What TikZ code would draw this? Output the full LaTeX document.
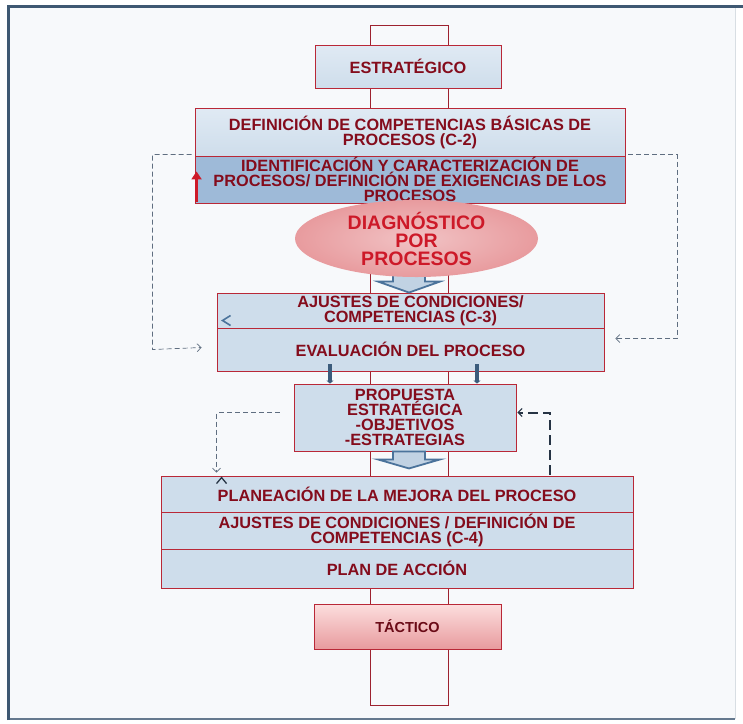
\documentclass[tikz,border=0pt]{standalone}
\usepackage{fontspec}
\setmainfont{Liberation Sans}
\usetikzlibrary{positioning,arrows.meta,calc,shapes.geometric}
\definecolor{cpRojo}{RGB}{185,40,55}
\definecolor{cpTexto}{RGB}{132,12,28}
\definecolor{cpVivo}{RGB}{205,25,40}
\definecolor{cpAzul}{RGB}{206,221,235}
\definecolor{cpAzulClaro}{RGB}{224,234,244}
\definecolor{cpAzulOscuro}{RGB}{158,186,216}
\definecolor{cpAcero}{RGB}{75,115,155}
\definecolor{cpRosa}{RGB}{232,155,158}
\definecolor{cpRosaClaro}{RGB}{252,222,222}
\definecolor{cpGris}{RGB}{95,110,128}
\definecolor{cpNegro}{RGB}{38,52,68}
\definecolor{cpMarco}{RGB}{62,88,114}
\definecolor{cpFondo}{RGB}{247,249,251}
\tikzset{
    base/.style={font=\bfseries\fontsize{16.3}{15}\selectfont, align=center,
                 text=cpTexto, inner sep=0pt},
    caja/.style={base, rectangle, draw=cpRojo, line width=0.9pt, fill=cpAzul},
    nivel/.style={caja, top color=cpAzulClaro, bottom color=cpAzul},
    tactico/.style={caja, top color=cpRosaClaro, bottom color=cpRosa,
                    text=cpTexto!80!black},
    diagnostico/.style={base, ellipse, inner color=cpRosa!60!white, outer color=cpRosa,
                        text=cpVivo, font=\bfseries\fontsize{19.5}{18}\selectfont},
    eje/.style={rectangle, draw=cpRojo!85!black, line width=0.8pt},
    bloque/.style={draw=cpAcero, line width=1.8pt, fill=cpAzul!90!cpAcero, line join=miter},
    lazo/.style={cpGris, line width=0.7pt, dash pattern=on 5pt off 3pt,
                 -{Straight Barb[length=4pt,width=8pt]}},
    lazofuerte/.style={cpNegro, line width=2pt, dash pattern=on 10pt off 5pt,
                       -{Straight Barb[length=4pt,width=8pt,line width=1pt]}},
    tramo/.style={cpAcero!80!black, line width=3.5pt, -{Triangle[length=3pt,width=7pt]}}
}

\begin{document}
\begin{tikzpicture}[x=1pt,y=-1pt]
  \useasboundingbox (0,0) rectangle (743,723);
  % Frame
  \fill[white] (0,0) rectangle (743,723);
  \fill[cpFondo] (8,6) rectangle (735,719);
  \draw[cpMarco!20, line width=1pt] (735,6) -- (735,719);
  \draw[cpMarco!80, line width=1.5pt] (8,719) -- (735,719);
  \draw[cpMarco, line width=3pt] (8,720) -- (8,6) -- (743,6);

  % Central axis
  \node[eje, minimum width=78pt, minimum height=680pt] (axis) at (409,365) {};

  % Strategic level
  \node[nivel, minimum width=186pt, minimum height=43pt] (estrat) at (408,66.5) {ESTRATÉGICO};
  \node[nivel, minimum width=430pt, minimum height=48pt] (defin) at (410,132)
    {DEFINICIÓN DE COMPETENCIAS BÁSICAS DE\\PROCESOS (C-2)};
  \node[caja, fill=cpAzulOscuro, minimum width=430pt, minimum height=47pt] (ident) at (410,179.5)
    {IDENTIFICACIÓN Y CARACTERIZACIÓN DE\\PROCESOS/ DEFINICIÓN DE EXIGENCIAS DE LOS\\PROCESOS};

  % Evaluation
  \node[caja, minimum width=387pt, minimum height=35pt] (ajustes) at (410.5,310.5)
    {AJUSTES DE CONDICIONES/\\COMPETENCIAS (C-3)};
  \node[caja, minimum width=387pt, minimum height=43pt] (evalua) at (410.5,349.5)
    {EVALUACIÓN DEL PROCESO};
  \node[caja, minimum width=222pt, minimum height=67pt] (propuesta) at (405,417.5)
    {PROPUESTA\\ESTRATÉGICA\\-OBJETIVOS\\-ESTRATEGIAS};

  % Tactical level
  \node[caja, minimum width=472pt, minimum height=36pt] (planea) at (397,494)
    {PLANEACIÓN DE LA MEJORA DEL PROCESO};
  \node[caja, minimum width=472pt, minimum height=37pt] (ajustes2) at (397,530.5)
    {AJUSTES DE CONDICIONES / DEFINICIÓN DE\\COMPETENCIAS (C-4)};
  \node[caja, minimum width=472pt, minimum height=39pt] (plan) at (397,568.5)
    {PLAN DE ACCIÓN};
  \node[tactico, minimum width=187pt, minimum height=45pt, font=\bfseries\fontsize{14.5}{15}\selectfont]
    (tactico) at (407.5,626.5) {TÁCTICO};

  % Block arrows
  \draw[bloque] ($(ajustes.north)+(-1.5,0)$) -- ++(31,-11) -- ++(-15,0) -- ++(0,-14)
    -- ++(-32,0) -- ++(0,14) -- ++(-15,0) -- cycle;
  \draw[bloque] ($(propuesta.south)+(4,17)$) -- ++(31,-9) -- ++(-15,0) -- ++(0,-8)
    -- ++(-32,0) -- ++(0,8) -- ++(-15,0) -- cycle;

  \node[diagnostico, minimum width=243pt, minimum height=77pt] (diag) at (416.5,238.5)
    {DIAGNÓSTICO\\POR\\PROCESOS};

  % Marks
  \draw[cpVivo, line width=2.2pt, -{Triangle[length=8pt,width=10pt]}]
    ($(ident.south west)+(2,-1)$) -- ($(ident.south west)+(2,-32)$);
  \draw[cpAcero, line width=1.6pt] ($(ajustes.west)+(14,5)$) -- ($(ajustes.west)+(6,10)$)
    -- ($(ajustes.west)+(14,15)$);
  \draw[cpNegro, line width=1.3pt] ($(planea.north west)+(56,8)$) -- ($(planea.north west)+(61,2)$)
    -- ($(planea.north west)+(66,8)$);
  \draw[tramo] ($(evalua.south)+(-80.5,-7)$) -- ($(propuesta.north)+(-75,0)$);
  \draw[tramo] ($(evalua.south)+(66.5,-7)$) -- ($(propuesta.north)+(72,0)$);

  % Feedback loops
  \draw[lazo] ($(ident.north west)+(-3,-1)$) -| ($(evalua.west)+(-64,0)$) -- ($(evalua.west)+(-15,-2)$);
  \draw[lazo] ($(ident.north east)+(3,-1)$) -| ($(evalua.east)+(73,-11)$) -- ($(evalua.east)+(11,-11)$);
  \draw[lazo] ($(propuesta.west)+(-14,-5)$) -| ($(planea.north west)+(56,-3)$);
  \draw[lazofuerte] ($(planea.north east)+(-83,-1)$) |- ($(propuesta.east)+(1,-5)$);
\end{tikzpicture}
\end{document}
